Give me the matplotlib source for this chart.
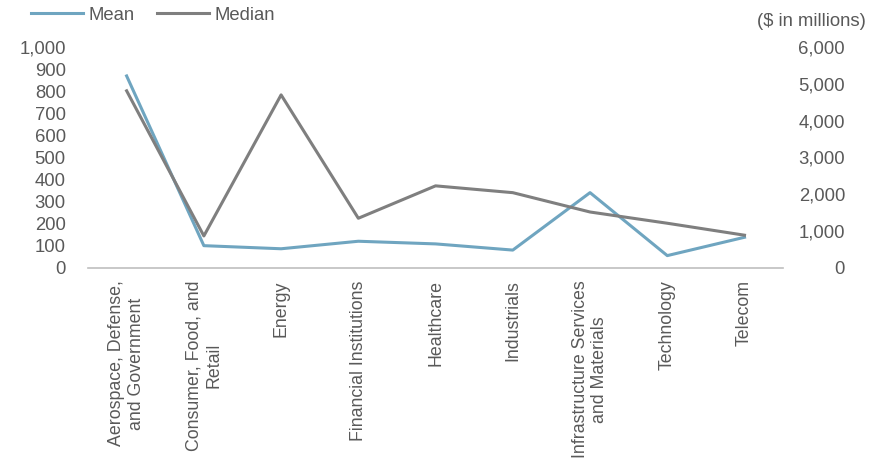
import matplotlib
matplotlib.use("Agg")
import matplotlib.pyplot as plt

plt.rcParams['font.family'] = ['Liberation Sans', 'DejaVu Sans']

categories = [
    "Aerospace, Defense,\nand Government",
    "Consumer, Food, and\nRetail",
    "Energy",
    "Financial Institutions",
    "Healthcare",
    "Industrials",
    "Infrastructure Services\nand Materials",
    "Technology",
    "Telecom",
]
mean_vals = [869, 101, 87, 121, 109, 81, 341, 56, 139]
median_vals = [4810, 870, 4700, 1350, 2230, 2045, 1520, 1215, 890]

left_ticks = [0, 100, 200, 300, 400, 500, 600, 700, 800, 900, 1000]
right_ticks = [0, 1000, 2000, 3000, 4000, 5000, 6000]

text_color = "#595959"
mean_color = "#6fa5c0"
median_color = "#7f7f7f"
fs = 13.3

fig = plt.figure(figsize=(8.81, 4.69), dpi=100)
ax = fig.add_axes([0.0999, 0.4286, 0.789, 0.4712])
ax2 = ax.twinx()

x = list(range(len(categories)))
l1, = ax.plot(x, mean_vals, color=mean_color, lw=2.2, label="Mean")
l2, = ax2.plot(x, median_vals, color=median_color, lw=2.2, label="Median")

ax.set_xlim(-0.5, len(categories) - 0.5)
ax.set_ylim(0, 1000)
ax2.set_ylim(0, 6000)
ax.set_yticks(left_ticks)
ax.set_yticklabels([f"{v:,}" for v in left_ticks])
ax2.set_yticks(right_ticks)
ax2.set_yticklabels([f"{v:,}" for v in right_ticks])

ax.set_xticks(x)
ax.set_xticklabels(categories, rotation=90, ha="center", va="top",
                   multialignment="center", fontsize=12.8, color=text_color)

for a in (ax, ax2):
    for s in a.spines.values():
        s.set_visible(False)
    a.tick_params(length=0, labelcolor=text_color)
ax.tick_params(axis="y", labelsize=fs, pad=16)
ax.tick_params(axis="x", pad=9)
ax2.tick_params(axis="y", labelsize=fs, pad=44.6)
for lab in ax2.get_yticklabels():
    lab.set_horizontalalignment("right")
ax.spines["bottom"].set_visible(True)
ax.spines["bottom"].set_color("#bfbfbf")
ax.spines["bottom"].set_linewidth(1.2)

fig.text(0.983, 0.955, "($ in millions)", ha="right", va="center",
         fontsize=fs, color=text_color)

fig.legend(handles=[l1, l2], loc="center left", bbox_to_anchor=(0.0352, 0.968),
           ncol=2, frameon=False, fontsize=fs, labelcolor=text_color,
           borderpad=0, borderaxespad=0,
           handlelength=2.8, handletextpad=0.3, columnspacing=1.25)

fig.savefig("out.png", dpi=100)
